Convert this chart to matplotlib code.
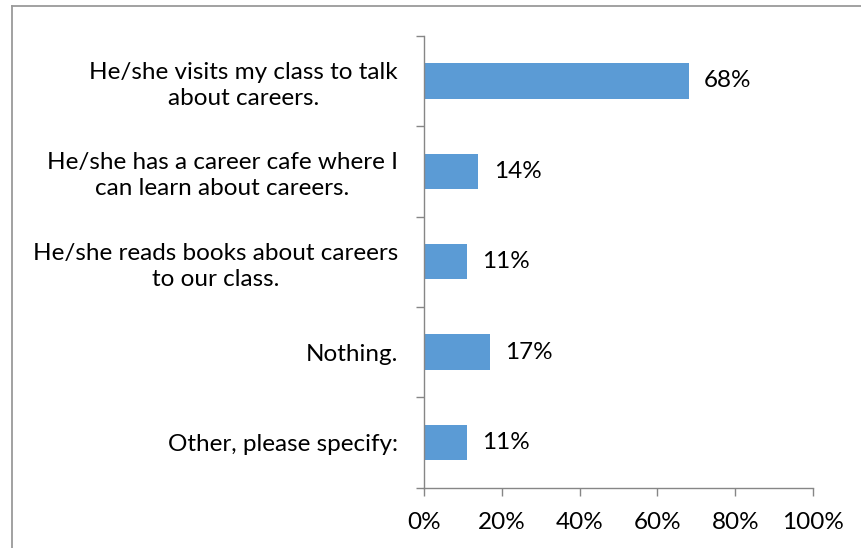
import matplotlib
matplotlib.use("Agg")
import matplotlib.pyplot as plt
from matplotlib.lines import Line2D
from matplotlib.ticker import FixedLocator

categories = [
    "He/she visits my class to talk\nabout careers.",
    "He/she has a career cafe where I\ncan learn about careers.",
    "He/she reads books about careers\nto our class.",
    "Nothing.",
    "Other, please specify:",
]
values = [68, 14, 11, 17, 11]
x_ticks = [0, 20, 40, 60, 80, 100]
x_tick_labels = ["0%", "20%", "40%", "60%", "80%", "100%"]

plt.rcParams["font.family"] = ["Lato", "DejaVu Sans"]
fs = 17.5
axis_color = "#868686"
bar_color = "#5B9BD5"

fig = plt.figure(figsize=(8.61, 5.48), dpi=100)
ax = fig.add_axes([424 / 861, 1 - 487.7 / 548, (813 - 424) / 861, (487.7 - 35.7) / 548])

n = len(categories)
ypos = list(range(n))
ax.barh(ypos, values, height=0.39, color=bar_color, zorder=2)
ax.set_ylim(n - 0.5, -0.5)
ax.set_xlim(0, 100)

for y, v in zip(ypos, values):
    ax.text(v + 3.9, y, f"{v}%", va="center", ha="left", fontsize=fs, color="black")

# category labels, right edge 26 px left of the axis, lines centred
ax.set_yticks(ypos)
ax.set_yticklabels(categories, fontsize=fs, linespacing=1.3)
for lbl in ax.get_yticklabels():
    lbl.set_horizontalalignment("right")
    lbl.set_multialignment("center")
ax.tick_params(axis="y", which="major", length=0, pad=26 * 72 / 100)
# category boundary ticks
ax.yaxis.set_minor_locator(FixedLocator([i - 0.5 for i in range(n + 1)]))
ax.tick_params(axis="y", which="minor", length=6, color=axis_color, width=1)

ax.set_xticks(x_ticks)
ax.set_xticklabels(x_tick_labels, fontsize=fs)
ax.tick_params(axis="x", length=6, color=axis_color, width=1, pad=11.5)

for side in ["top", "right"]:
    ax.spines[side].set_visible(False)
for side in ["left", "bottom"]:
    ax.spines[side].set_color(axis_color)
    ax.spines[side].set_linewidth(1)

# chart frame
fig.add_artist(Line2D([12 / 861, 12 / 861], [0, 1 - 6 / 548], transform=fig.transFigure,
                      color="#9a9a9a", linewidth=1.3))
fig.add_artist(Line2D([12 / 861, 1], [1 - 6 / 548, 1 - 6 / 548], transform=fig.transFigure,
                      color="#9a9a9a", linewidth=1.3))

fig.savefig("out.png", dpi=100)
